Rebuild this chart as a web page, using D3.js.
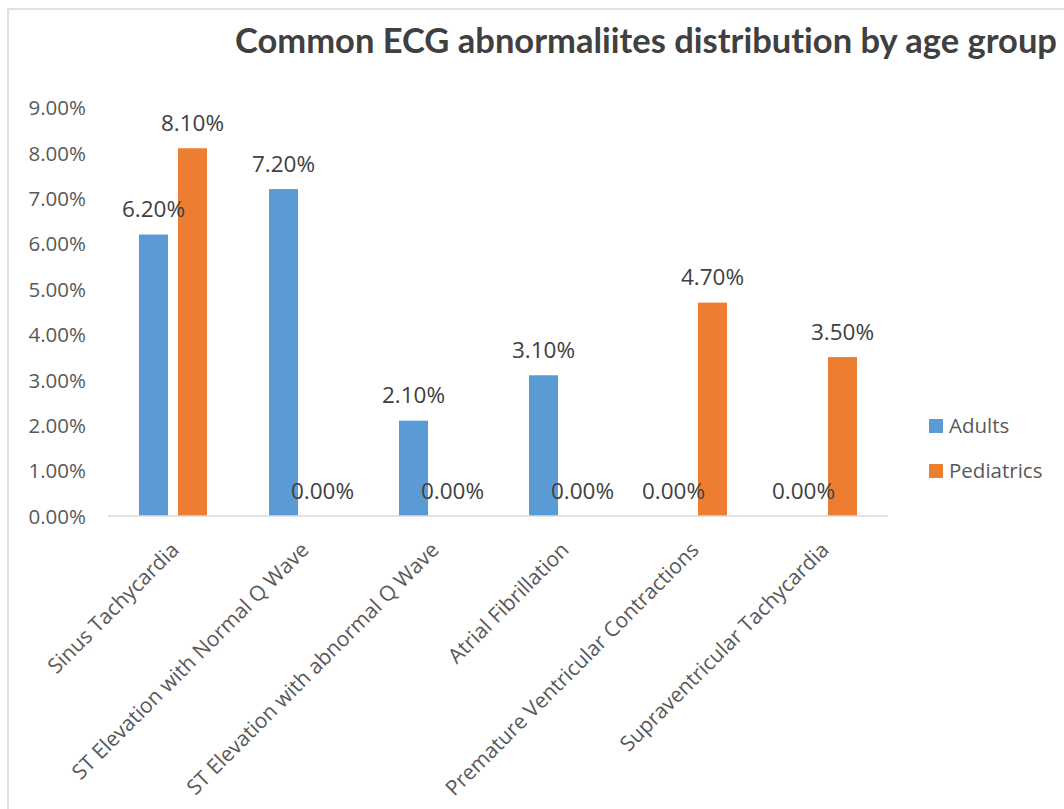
<!DOCTYPE html>
<html>
<head>
<meta charset="utf-8">
<script src="https://cdn.jsdelivr.net/npm/d3@7"></script>
<style>
  html, body { margin: 0; padding: 0; background: #fff; }
  svg { display: block; }
  text { font-variant-ligatures: none; font-feature-settings: "liga" 0; }
</style>
</head>
<body>
<svg id="chart" width="1064" height="809"></svg>
<script>
// Chart data
const categories = [
  "Sinus Tachycardia",
  "ST Elevation with Normal Q Wave",
  "ST Elevation with abnormal Q Wave",
  "Atrial Fibrillation",
  "Premature Ventricular Contractions",
  "Supraventricular Tachycardia"
];
const seriesNames = ["Adults", "Pediatrics"];
const adults = [6.2, 7.2, 2.1, 3.1, 0.0, 0.0];
const pediatrics = [8.1, 0.0, 0.0, 0.0, 4.7, 3.5];
const yTicks = [0, 1, 2, 3, 4, 5, 6, 7, 8, 9];
const titleText = "Common ECG abnormaliites distribution by age group";

const colors = { Adults: "#5B9BD5", Pediatrics: "#ED7D31" };
const seriesValues = { Adults: adults, Pediatrics: pediatrics };

const svg = d3.select("#chart");
const font = "'Open Sans', 'DejaVu Sans', sans-serif";

// Chart area frame
svg.append("rect")
  .attr("x", 8).attr("y", 9)
  .attr("width", 1100).attr("height", 850)
  .attr("fill", "#fff")
  .attr("stroke", "#d9d9d9").attr("stroke-width", 1.5);

// Title: condensed horizontally to a fixed width
const title = svg.append("text")
  .attr("x", 0).attr("y", 0)
  .attr("text-anchor", "middle")
  .attr("font-family", "Lato, 'Open Sans', sans-serif")
  .attr("font-weight", 700)
  .attr("font-size", 35)
  .attr("fill", "#404040")
  .text(titleText);
const titleW = title.node().getComputedTextLength();
const titleScale = titleW > 0 ? 822 / titleW : 1;
title.attr("transform", `translate(646,53) scale(${titleScale},1)`);

// Scales
const plot = { left: 108, right: 888, top: 107.4, bottom: 516 };
const x0 = d3.scaleBand().domain(categories).range([plot.left, plot.right]);
const x1 = d3.scaleBand().domain(seriesNames).range([31, 99]).paddingInner(10 / 39);
const y = d3.scaleLinear().domain([0, 9]).range([plot.bottom, plot.top]);

// Y axis tick labels (no line, no ticks)
const yAxis = d3.axisLeft(y)
  .tickValues(yTicks)
  .tickSize(0)
  .tickPadding(0)
  .tickFormat(d => d.toFixed(2) + "%");
const yg = svg.append("g")
  .attr("transform", `translate(86,0)`)
  .call(yAxis);
yg.select(".domain").remove();
yg.selectAll("text")
  .attr("font-family", font)
  .attr("font-size", 20.5)
  .attr("fill", "#595959")
  .attr("dy", "0.36em");

// Bars
const rows = categories.map((c, i) => ({ cat: c, vals: seriesNames.map(s => ({ s, v: seriesValues[s][i] })) }));
const groups = svg.append("g").selectAll("g")
  .data(rows).join("g")
  .attr("transform", d => `translate(${x0(d.cat)},0)`);

groups.selectAll("rect")
  .data(d => d.vals).join("rect")
  .attr("x", d => x1(d.s))
  .attr("width", x1.bandwidth())
  .attr("y", d => y(d.v))
  .attr("height", d => y(0) - y(d.v))
  .attr("fill", d => colors[d.s]);

// X axis baseline
svg.append("line")
  .attr("x1", plot.left).attr("x2", plot.right)
  .attr("y1", plot.bottom).attr("y2", plot.bottom)
  .attr("stroke", "#d9d9d9").attr("stroke-width", 1.5);

// Data labels
groups.selectAll("text.lbl")
  .data(d => d.vals).join("text")
  .attr("class", "lbl")
  .attr("x", d => x1(d.s) + x1.bandwidth() / 2)
  .attr("y", d => y(d.v) - 17.5)
  .attr("text-anchor", "middle")
  .attr("font-family", font)
  .attr("font-size", 22.5)
  .attr("fill", "#404040")
  .text(d => d.v.toFixed(2) + "%");

// Category labels rotated -45°
svg.append("g").selectAll("text")
  .data(categories).join("text")
  .attr("transform", d => `translate(${x0(d) + x0.bandwidth() / 2 + 2},546) rotate(-45)`)
  .attr("text-anchor", "end")
  .attr("dy", "0.35em")
  .attr("font-family", font)
  .attr("font-size", 21)
  .attr("fill", "#595959")
  .text(d => d);

// Legend
const legend = svg.append("g").selectAll("g")
  .data(seriesNames).join("g")
  .attr("transform", (d, i) => `translate(929,${419 + i * 45})`);
legend.append("rect")
  .attr("width", 14).attr("height", 14)
  .attr("fill", d => colors[d]);
legend.append("text")
  .attr("x", 20).attr("y", 14)
  .attr("font-family", font)
  .attr("font-size", 20.5)
  .attr("fill", "#595959")
  .text(d => d);
</script>
</body>
</html>
